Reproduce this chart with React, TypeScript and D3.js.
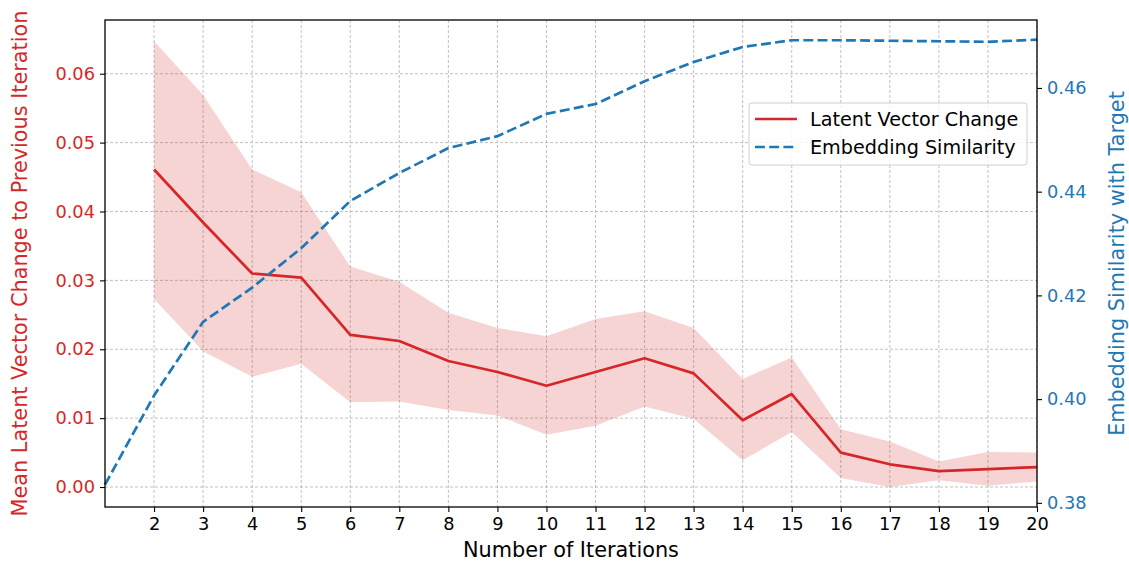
import { useEffect, useRef } from "react"
import * as d3 from "d3"

const iterations = [2, 3, 4, 5, 6, 7, 8, 9, 10, 11, 12, 13, 14, 15, 16, 17, 18, 19, 20]
const latentMean = [0.0461, 0.0384, 0.031, 0.0304, 0.0221, 0.0212, 0.0183, 0.0167, 0.0147, 0.0167, 0.0187, 0.0165, 0.0097, 0.0135, 0.005, 0.0033, 0.0023, 0.0026, 0.0029]
const latentUpper = [0.0647, 0.0569, 0.0461, 0.0428, 0.032, 0.0298, 0.0253, 0.0231, 0.0219, 0.0244, 0.0255, 0.0231, 0.0157, 0.0188, 0.0084, 0.0066, 0.0037, 0.0051, 0.005]
const latentLower = [0.0273, 0.0197, 0.016, 0.0179, 0.0123, 0.0124, 0.0112, 0.0104, 0.0076, 0.0089, 0.0117, 0.0099, 0.0039, 0.008, 0.0013, 0.0, 0.001, 0.0002, 0.0008]
const simIterations = [1, 2, 3, 4, 5, 6, 7, 8, 9, 10, 11, 12, 13, 14, 15, 16, 17, 18, 19, 20]
const similarity = [0.3835, 0.4007, 0.4149, 0.4215, 0.4291, 0.4382, 0.4436, 0.4484, 0.4507, 0.455, 0.4569, 0.4613, 0.465, 0.4679, 0.4692, 0.4692, 0.4691, 0.469, 0.4689, 0.4693]
const leftTicks = [0, 0.01, 0.02, 0.03, 0.04, 0.05, 0.06]
const rightTicks = [0.38, 0.4, 0.42, 0.44, 0.46]

const RED = "#d62728"
const BLUE = "#1f77b4"
const FONT = "DejaVu Sans, sans-serif"
const DASH = "9.9,4.3"

const App = () => {
  const ref = useRef<SVGSVGElement>(null)
  const width = 1129
  const height = 562
  const margin = { top: 20, right: 92, bottom: 55, left: 105 }

  useEffect(() => {
    const svg = d3.select(ref.current)
    svg.selectAll("*").remove()

    const iw = width - margin.left - margin.right
    const ih = height - margin.top - margin.bottom

    const x = d3.scaleLinear().domain([1, 20]).range([0, iw])
    const yL = d3.scaleLinear().domain([-0.0029, 0.0678]).range([ih, 0])
    const yR = d3.scaleLinear().domain([0.3792, 0.4731]).range([ih, 0])

    const g = svg.append("g").attr("transform", `translate(${margin.left},${margin.top})`)

    // grid
    g.append("g")
      .selectAll("line")
      .data(iterations)
      .enter()
      .append("line")
      .attr("x1", (d) => x(d))
      .attr("x2", (d) => x(d))
      .attr("y1", 0)
      .attr("y2", ih)
      .attr("stroke", "#b0b0b0")
      .attr("stroke-width", 0.8)
      .attr("stroke-dasharray", "3,2")
    g.append("g")
      .selectAll("line")
      .data(leftTicks)
      .enter()
      .append("line")
      .attr("x1", 0)
      .attr("x2", iw)
      .attr("y1", (d) => yL(d))
      .attr("y2", (d) => yL(d))
      .attr("stroke", "#b0b0b0")
      .attr("stroke-width", 0.8)
      .attr("stroke-dasharray", "3,2")

    // band
    const area = d3
      .area<number>()
      .x((_, i) => x(iterations[i]))
      .y0((_, i) => yL(latentLower[i]))
      .y1((_, i) => yL(latentUpper[i]))
    g.append("path").datum(latentMean).attr("d", area).attr("fill", RED).attr("fill-opacity", 0.2)

    const lineL = d3
      .line<number>()
      .x((_, i) => x(iterations[i]))
      .y((d) => yL(d))
    g.append("path")
      .datum(latentMean)
      .attr("d", lineL)
      .attr("fill", "none")
      .attr("stroke", RED)
      .attr("stroke-width", 2.7)
      .attr("stroke-linejoin", "round")

    const lineR = d3
      .line<number>()
      .x((_, i) => x(simIterations[i]))
      .y((d) => yR(d))
    g.append("path")
      .datum(similarity)
      .attr("d", lineR)
      .attr("fill", "none")
      .attr("stroke", BLUE)
      .attr("stroke-width", 2.7)
      .attr("stroke-dasharray", DASH)

    // axes
    const xAxis = g
      .append("g")
      .attr("transform", `translate(0,${ih})`)
      .call(d3.axisBottom(x).tickValues(iterations).tickSize(5).tickPadding(5).tickFormat(d3.format("d")))
    const yAxisL = g.append("g").call(d3.axisLeft(yL).tickValues(leftTicks).tickSize(5).tickPadding(5).tickFormat(d3.format(".2f")))
    const yAxisR = g
      .append("g")
      .attr("transform", `translate(${iw},0)`)
      .call(d3.axisRight(yR).tickValues(rightTicks).tickSize(5).tickPadding(5).tickFormat(d3.format(".2f")))

    ;[xAxis, yAxisL, yAxisR].forEach((a) => {
      a.select(".domain").remove()
      a.selectAll("line").attr("stroke", "#000").attr("stroke-width", 1.1)
      a.selectAll("text").attr("font-family", FONT).attr("font-size", 17.8).attr("fill", "#000")
    })
    yAxisL.selectAll("text").attr("fill", RED)
    yAxisR.selectAll("text").attr("fill", BLUE)

    g.append("rect")
      .attr("width", iw)
      .attr("height", ih)
      .attr("fill", "none")
      .attr("stroke", "#000")
      .attr("stroke-width", 1.3)

    // labels
    svg.append("text")
      .attr("x", margin.left + iw / 2)
      .attr("y", 557)
      .attr("text-anchor", "middle")
      .attr("font-family", FONT)
      .attr("font-size", 20.8)
      .text("Number of Iterations")
    svg.append("text")
      .attr("transform", `translate(27,${margin.top + ih / 2}) rotate(-90)`)
      .attr("text-anchor", "middle")
      .attr("font-family", FONT)
      .attr("font-size", 20.8)
      .attr("fill", RED)
      .text("Mean Latent Vector Change to Previous Iteration")
    svg.append("text")
      .attr("transform", `translate(1124,${margin.top + ih / 2}) rotate(-90)`)
      .attr("text-anchor", "middle")
      .attr("font-family", FONT)
      .attr("font-size", 20.8)
      .attr("fill", BLUE)
      .text("Embedding Similarity with Target")

    // legend
    const legend = g.append("g").attr("transform", `translate(${749 - margin.left},${103 - margin.top})`)
    legend.append("rect")
      .attr("width", 278)
      .attr("height", 62)
      .attr("rx", 3)
      .attr("fill", "#fff")
      .attr("fill-opacity", 0.8)
      .attr("stroke", "#d0d0d0")
    const items = [
      { label: "Latent Vector Change", color: RED, dash: null },
      { label: "Embedding Similarity", color: BLUE, dash: DASH },
    ]
    items.forEach((it, i) => {
      const yy = 16 + i * 28
      legend.append("line")
        .attr("x1", 6)
        .attr("x2", 48)
        .attr("y1", yy)
        .attr("y2", yy)
        .attr("stroke", it.color)
        .attr("stroke-width", 2.7)
        .attr("stroke-dasharray", it.dash)
      legend.append("text")
        .attr("x", 61)
        .attr("y", yy + 7)
        .attr("font-family", FONT)
        .attr("font-size", 19.2)
        .text(it.label)
    })
  }, [])

  return (
    <svg
      ref={ref}
      width={width}
      height={height}
      style={{ position: "absolute", left: 0, top: 0, display: "block" }}
    />
  )
}

export default App
